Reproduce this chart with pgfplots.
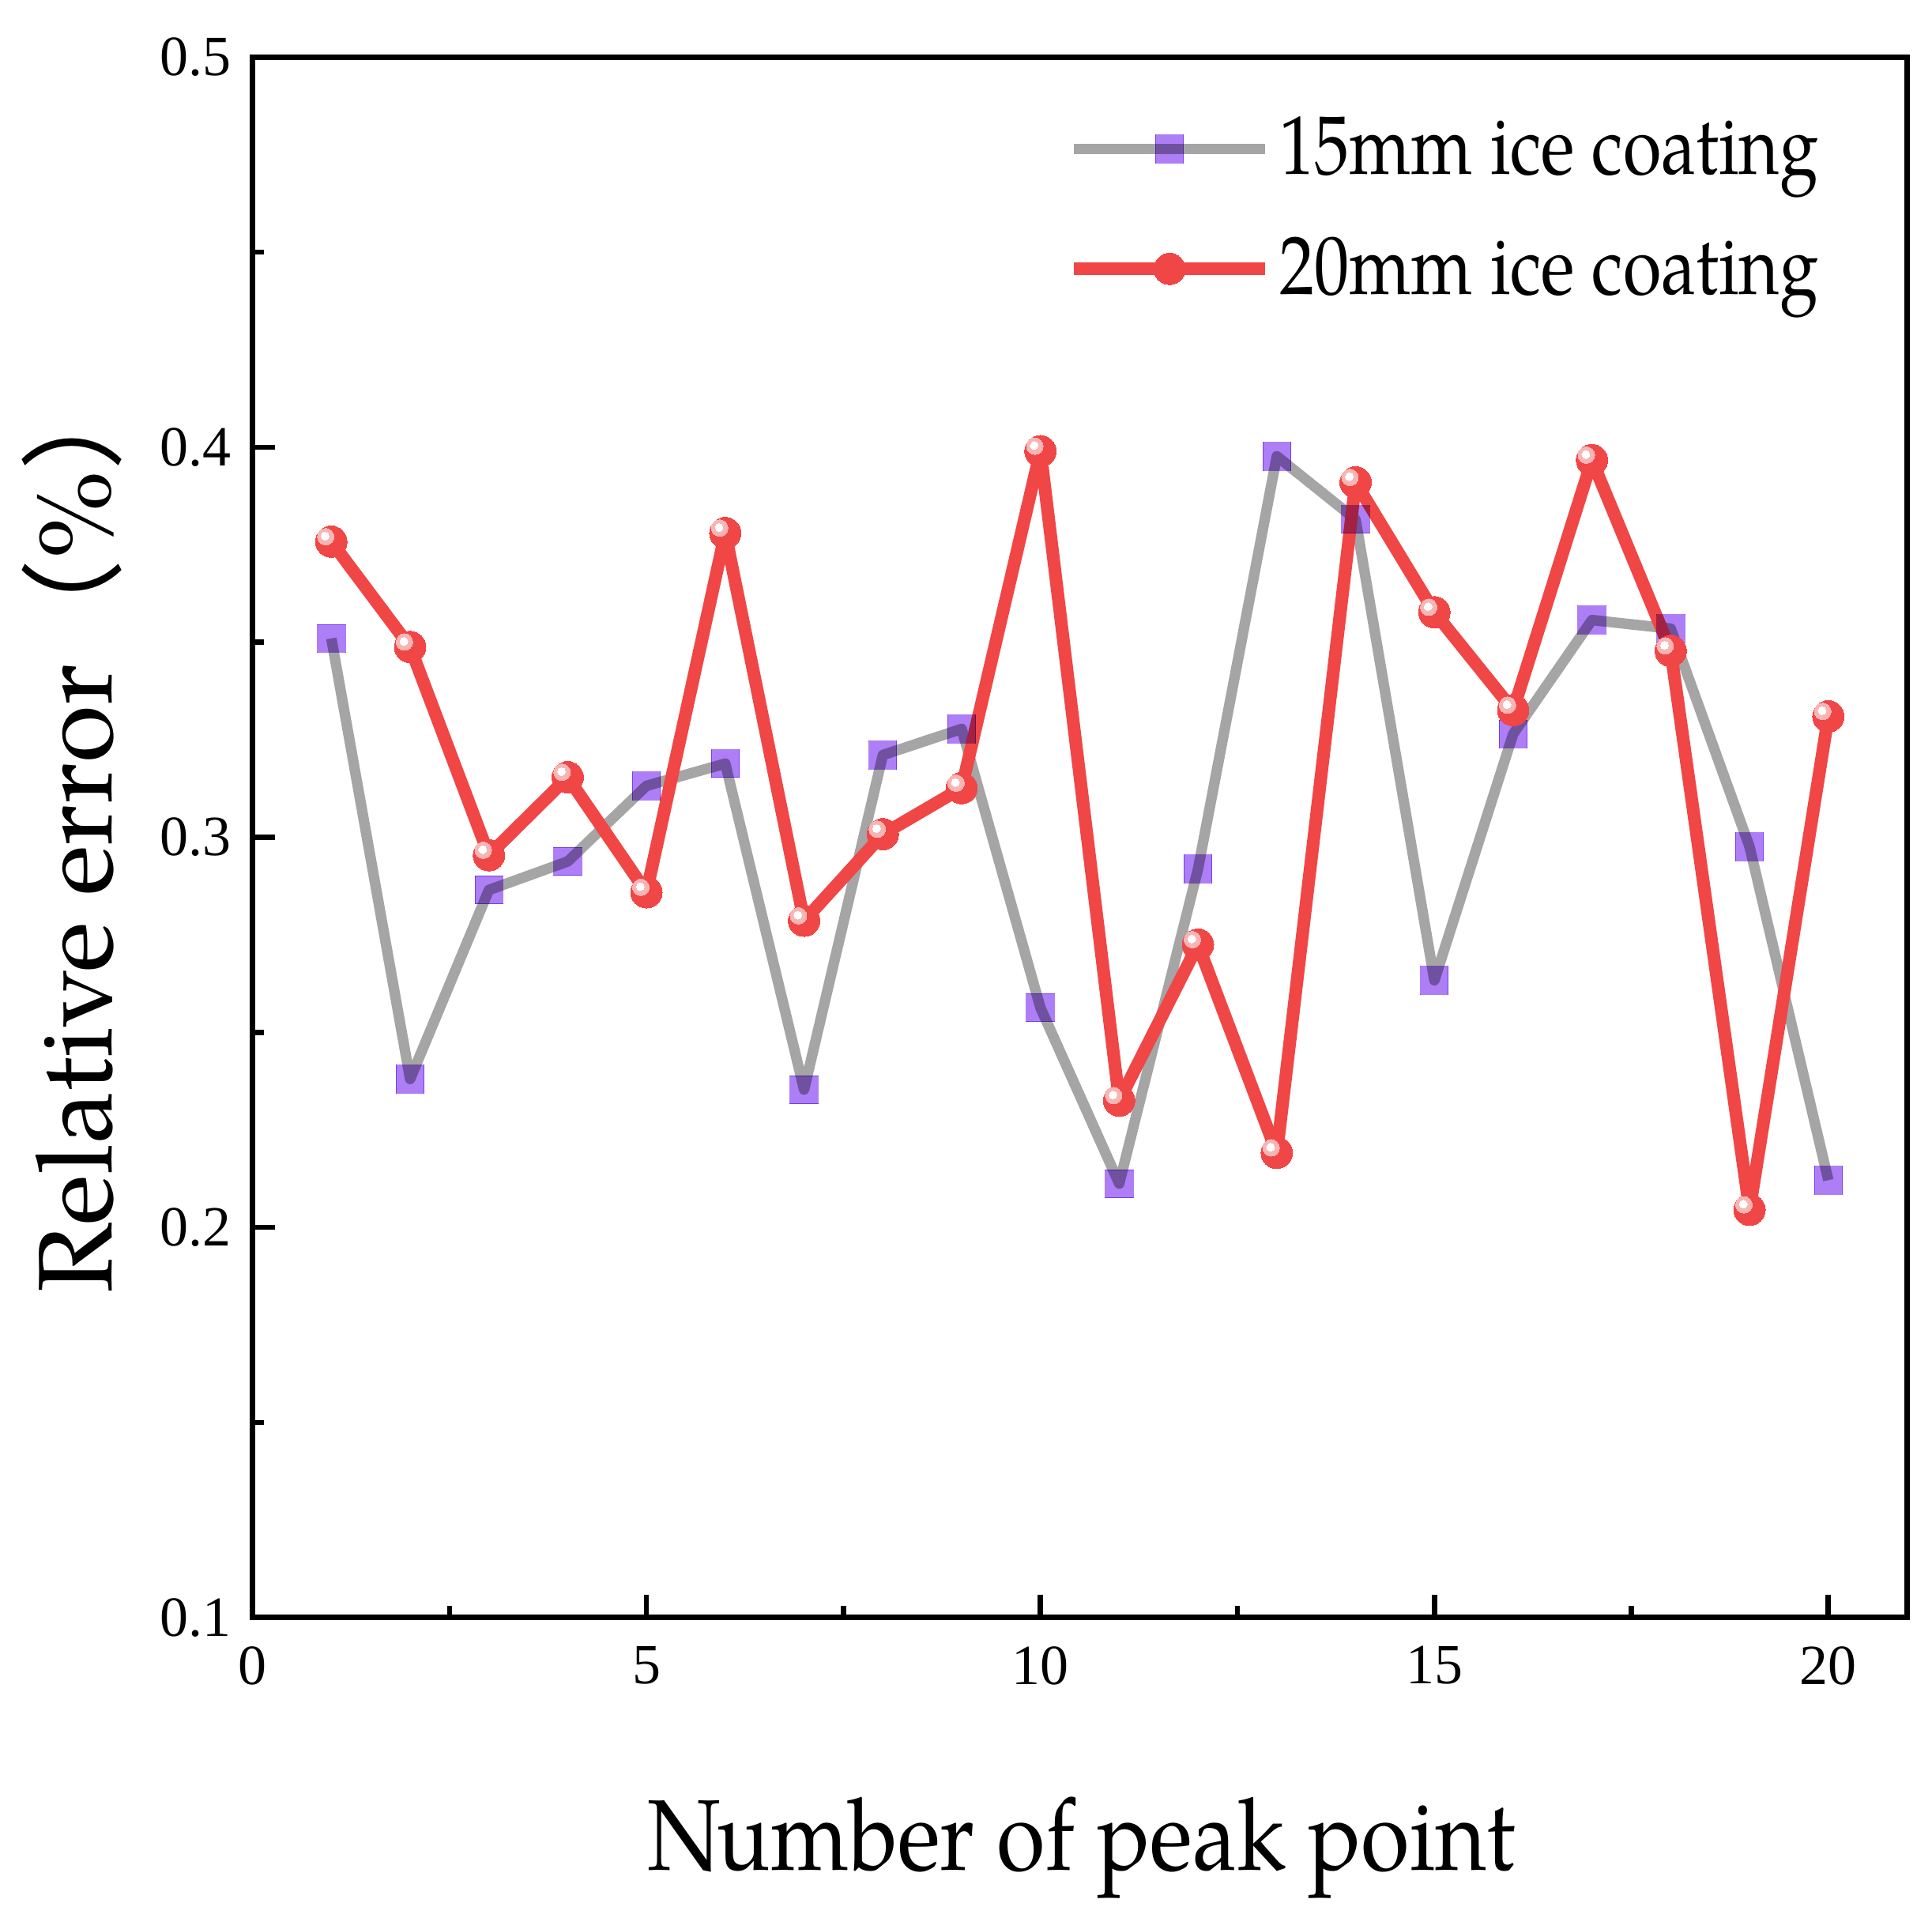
\documentclass[border=0pt]{standalone}
\usepackage{pgfplots}
\pgfplotsset{compat=1.18}
\usepackage{fontspec}
\setmainfont{TeX Gyre Pagella}
\newfontfamily\legfont[FakeStretch=0.84]{TeX Gyre Pagella}
\newfontfamily\xlabfont[FakeStretch=0.88]{TeX Gyre Pagella}
\newfontfamily\tickfont{Liberation Serif}
\newfontfamily\cjk{Noto Sans CJK SC}
\definecolor{grayline}{HTML}{A5A5A5}
\definecolor{redline}{HTML}{F04646}
\definecolor{pinkhi}{HTML}{F9B4B4}
\definecolor{purp}{HTML}{AE7EF6}
\begin{document}
\begin{tikzpicture}
\begin{axis}[
  scale only axis,
  width=133.0mm, height=125.4mm,
  xmin=0, xmax=21, ymin=0.1, ymax=0.5,
  xtick={0,5,10,15,20},
  ytick={0.1,0.2,0.3,0.4,0.5},
  yticklabels={0.1,0.2,0.3,0.4,0.5},
  minor x tick num=1, minor y tick num=1,
  xtick pos=bottom, ytick pos=left,
  tick align=inside,
  major tick length=1.8mm, minor tick length=0.9mm,
  axis line style={line width=1.25pt},
  every tick/.style={black, line width=1.2pt},
  /pgf/number format/assume math mode=true,
  tick label style={font=\tickfont\fontsize{13}{13}\selectfont},
  xticklabel style={yshift=-1.1mm},
  yticklabel style={xshift=-0.5mm},
  xlabel={Number of peak point},
  ylabel={Relative error{\cjk （}\%{\cjk ）}},
  every axis x label/.style={at={(axis description cs:0.501,-0.162)}, anchor=base,
    font=\xlabfont\fontsize{23}{23}\selectfont},
  every axis y label/.style={at={(axis description cs:-0.109,0.505)}, anchor=center, rotate=90,
    font=\fontsize{24}{24}\selectfont},
  legend style={draw=none, fill=none, at={(axis description cs:0.492,0.968)}, anchor=north west,
    font=\legfont\fontsize{19}{19}\selectfont, row sep=3.1mm, inner sep=0pt,
    nodes={inner xsep=0.65mm}},
  legend cell align=left,
  legend image code/.code={
    \draw[#1, mark repeat=2, mark phase=2] plot coordinates {(0mm,0mm) (7.7mm,0mm) (15.4mm,0mm)};
  },
]
\addplot[color=grayline, line width=2.4pt, line join=round, mark=square*, mark size=3.2pt,
  mark options={solid, fill=purp, draw=purp, line width=0pt, blend mode=multiply}] coordinates {
(1,0.351) (2,0.238) (3,0.2865) (4,0.2938) (5,0.3132) (6,0.3189) (7,0.2353)
(8,0.3211) (9,0.3278) (10,0.2563) (11,0.2112) (12,0.2919) (13,0.3977)
(14,0.3815) (15,0.2633) (16,0.3265) (17,0.3557) (18,0.3535) (19,0.2976) (20,0.2121)
};
\addlegendentry{15mm ice coating}
\addplot[color=redline, line width=2.9pt, line join=round, mark=*, mark size=3.6pt,
  mark options={solid, fill=redline, draw=redline, line width=0pt}] coordinates {
(1,0.3758) (2,0.3488) (3,0.2954) (4,0.3154) (5,0.2859) (6,0.378) (7,0.2786)
(8,0.3008) (9,0.3126) (10,0.399) (11,0.2325) (12,0.2725) (13,0.2191)
(14,0.391) (15,0.3577) (16,0.3326) (17,0.3967) (18,0.3478) (19,0.2045) (20,0.331)
};
\addlegendentry{20mm ice coating}
\addplot[forget plot, only marks, color=pinkhi, mark=*, mark size=1.9pt,
  mark options={fill=pinkhi, draw=pinkhi, line width=0pt, xshift=-0.45mm, yshift=0.4mm}] coordinates {
(1,0.3758) (2,0.3488) (3,0.2954) (4,0.3154) (5,0.2859) (6,0.378) (7,0.2786)
(8,0.3008) (9,0.3126) (10,0.399) (11,0.2325) (12,0.2725) (13,0.2191)
(14,0.391) (15,0.3577) (16,0.3326) (17,0.3967) (18,0.3478) (19,0.2045) (20,0.331)
};
\addplot[forget plot, only marks, color=white, mark=*, mark size=0.9pt,
  mark options={fill=white, draw=white, line width=0pt, xshift=-0.5mm, yshift=0.45mm}] coordinates {
(1,0.3758) (2,0.3488) (3,0.2954) (4,0.3154) (5,0.2859) (6,0.378) (7,0.2786)
(8,0.3008) (9,0.3126) (10,0.399) (11,0.2325) (12,0.2725) (13,0.2191)
(14,0.391) (15,0.3577) (16,0.3326) (17,0.3967) (18,0.3478) (19,0.2045) (20,0.331)
};
\end{axis}
\path (current axis.south west) ++(-20.3mm,-24.1mm) coordinate (bl);
\path (current axis.north east) ++(2.0mm,4.6mm) coordinate (tr);
\path (bl) rectangle (tr);
\end{tikzpicture}
\end{document}
